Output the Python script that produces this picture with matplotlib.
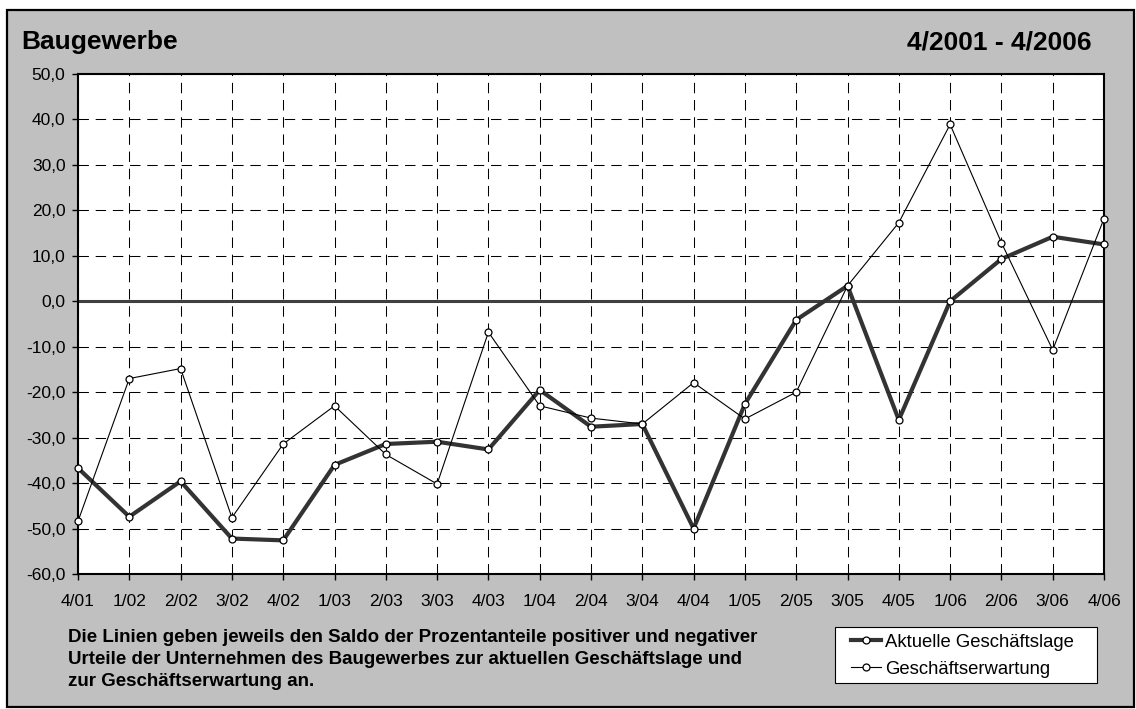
import matplotlib
matplotlib.use("Agg")
import matplotlib.pyplot as plt
from matplotlib.patches import Rectangle
from matplotlib.lines import Line2D

plt.rcParams['font.family'] = ['Liberation Sans', 'DejaVu Sans']

quarters = ["4/01", "1/02", "2/02", "3/02", "4/02", "1/03", "2/03", "3/03", "4/03",
            "1/04", "2/04", "3/04", "4/04", "1/05", "2/05", "3/05", "4/05", "1/06",
            "2/06", "3/06", "4/06"]
aktuelle = [-36.7, -47.4, -39.6, -52.2, -52.6, -36.0, -31.4, -30.9, -32.6,
            -19.5, -27.6, -27.0, -50.0, -22.6, -4.1, 3.4, -26.1, 0.0,
            9.3, 14.2, 12.5]
erwartung = [-48.4, -17.0, -14.8, -47.6, -31.4, -23.0, -33.7, -40.2, -6.8,
             -23.0, -25.7, -27.0, -17.9, -25.9, -20.0, 3.4, 17.3, 38.9,
             12.9, -10.7, 18.2]
yticks = [50, 40, 30, 20, 10, 0, -10, -20, -30, -40, -50, -60]
ytick_labels = [f"{v:.1f}".replace(".", ",") for v in yticks]

title_left = "Baugewerbe"
title_right = "4/2001 - 4/2006"
footnote = ["Die Linien geben jeweils den Saldo der Prozentanteile positiver und negativer",
            "Urteile der Unternehmen des Baugewerbes zur aktuellen Geschäftslage und",
            "zur Geschäftserwartung an."]
series_names = ["Aktuelle Geschäftslage", "Geschäftserwartung"]

W, H = 1136, 709
fig = plt.figure(figsize=(W / 100, H / 100), dpi=100, facecolor="white")

def fx(px):
    return px / W

def fy(py):
    return 1 - py / H

# gray frame
fig.patches.append(Rectangle((fx(7), fy(707)), fx(1134) - fx(7), fy(10) - fy(707),
                             transform=fig.transFigure, facecolor="#c0c0c0",
                             edgecolor="black", linewidth=1.6, zorder=-10))

ax = fig.add_axes([fx(78), fy(574), fx(1104) - fx(78), fy(74) - fy(574)])
ax.set_zorder(1)
ax.set_facecolor("white")
x = list(range(len(quarters)))

ax.axhline(0, color="#404040", linewidth=2.2, zorder=2)
ax.plot(x, aktuelle, color="#333333", linewidth=3.0, marker="o", markersize=5,
        markerfacecolor="white", markeredgecolor="black", markeredgewidth=0.9,
        clip_on=False, zorder=3)
ax.plot(x, erwartung, color="black", linewidth=0.8, marker="o", markersize=5,
        markerfacecolor="white", markeredgecolor="black", markeredgewidth=0.9,
        clip_on=False, zorder=4)

ax.set_xlim(0, len(quarters) - 1)
ax.set_ylim(-60, 50)
ax.set_xticks(x)
ax.set_xticklabels(quarters)
ax.set_yticks(yticks)
ax.set_yticklabels(ytick_labels)
ax.grid(True, color="black", linewidth=0.75, linestyle=(0, (10, 6.5)), zorder=1)
ax.set_axisbelow(True)
for s in ax.spines.values():
    s.set_color("black")
    s.set_linewidth(1.5)
    s.set_zorder(2.5)
ax.tick_params(axis="y", direction="out", length=4, width=1, pad=5, labelsize=12.5)
ax.tick_params(axis="x", direction="out", length=4.5, width=1, pad=10, labelsize=12.5)

fig.text(fx(21), fy(42), title_left, fontsize=19, fontweight="bold", va="center", ha="left")
fig.text(fx(1092), fy(42), title_right, fontsize=19, fontweight="bold", va="center", ha="right")

for i, line in enumerate(footnote):
    fig.text(fx(68), fy(638 + 22 * i), line, fontsize=13.5, fontweight="bold",
             va="center", ha="left")

# legend box
fig.patches.append(Rectangle((fx(835), fy(683)), fx(1097) - fx(835), fy(627) - fy(683),
                             transform=fig.transFigure, facecolor="white",
                             edgecolor="black", linewidth=0.8, zorder=1))
handles = [Line2D([], [], color="#333333", linewidth=3.0, marker="o", markersize=5,
                  markerfacecolor="white", markeredgecolor="black", markeredgewidth=0.9),
           Line2D([], [], color="black", linewidth=0.8, marker="o", markersize=5,
                  markerfacecolor="white", markeredgecolor="black", markeredgewidth=0.9)]
leg = fig.legend(handles, series_names, loc="upper left",
                 bbox_to_anchor=(fx(848), fy(631)), bbox_transform=fig.transFigure,
                 frameon=False, fontsize=13.3, handlelength=1.65, handletextpad=0.2,
                 labelspacing=0.55, borderpad=0.15, borderaxespad=0, numpoints=1)
leg.set_zorder(2)

fig.savefig("out.png", dpi=100, facecolor=fig.get_facecolor())
